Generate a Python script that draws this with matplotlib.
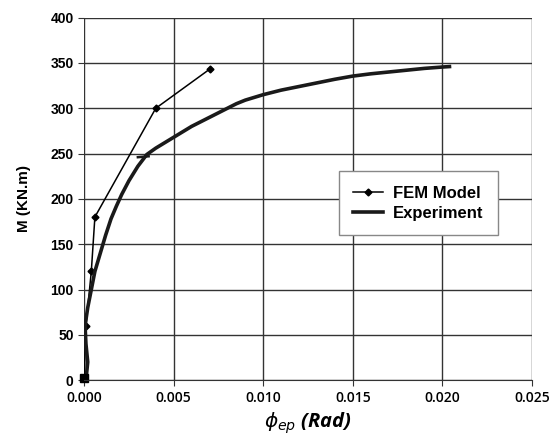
import matplotlib.pyplot as plt

# FEM model points
fem_phi = [0.0, 0.0001, 0.0004, 0.0006, 0.0040, 0.0070]
fem_m = [0, 60, 120, 180, 300, 343]

exp_phi = [0.0001, 0.0002, 0.0001, 0.00005, 0.0002, 0.0004, 0.0006, 0.0009,
           0.0012, 0.0015, 0.0018, 0.0021, 0.0025, 0.0030, 0.0035, 0.0040,
           0.0045, 0.0050, 0.0055, 0.0060, 0.0065, 0.0070, 0.0075, 0.0080,
           0.0085, 0.0090, 0.0095, 0.0100, 0.0110, 0.0120, 0.0130, 0.0140,
           0.0150, 0.0160, 0.0170, 0.0180, 0.0190, 0.0200, 0.0204]
exp_m = [0, 20, 40, 60, 80, 100, 120, 140, 160, 178, 192, 205, 220, 236,
         249, 256, 262, 268, 274, 280, 285, 290, 295, 300, 305, 309, 312,
         315, 320, 324, 328, 332, 335.5, 338, 340, 342, 344, 345.5, 346]

fig = plt.figure(figsize=(5.5, 4.41), dpi=100)
ax = fig.add_axes([0.153, 0.138, 0.814, 0.822])

ax.plot(fem_phi, fem_m, color="black", lw=1.1, marker="D", ms=3.5,
        label="FEM Model")
ax.plot(exp_phi, exp_m, color="#1a1a1a", lw=2.6, label="Experiment")
# spur at the start of the upper part of the test curve
ax.plot([0.0030, 0.0036], [246, 247], color="#1a1a1a", lw=1.8)
ax.plot([0.0], [2], marker="s", ms=6, color="black", ls="none", clip_on=False)

ax.set_xlim(0, 0.025)
ax.set_ylim(0, 400)
ax.set_xticks([0.000, 0.005, 0.010, 0.015, 0.020, 0.025])
ax.set_xticklabels(["0.000", "0.005", "0.010", "0.015", "0.020", "0.025"])
ax.set_yticks(range(0, 401, 50))
ax.grid(True, color="#333333", lw=1.0)
for s in ["top", "right", "left"]:
    ax.spines[s].set_visible(False)
ax.spines["bottom"].set_color("#333333")
ax.tick_params(axis="both", length=4, color="#333333")
for t in ax.get_yticklabels():
    t.set_fontfamily("Liberation Sans")
    t.set_fontweight("bold")
    t.set_fontsize(10)
for t in ax.get_xticklabels():
    t.set_fontfamily("Open Sans")
    t.set_fontweight("semibold")
    t.set_fontsize(10)

ax.set_ylabel("M (KN.m)", fontsize=11, fontweight="bold",
              fontfamily="Liberation Sans", labelpad=14)
ax.set_xlabel(r"$\phi_{ep}$ (Rad)", fontsize=14.5, fontweight="bold",
              fontstyle="italic", fontfamily="Open Sans", labelpad=4)

leg = ax.legend(loc="upper left", bbox_to_anchor=(0.569, 0.576), borderaxespad=0,
                fancybox=False, framealpha=1, edgecolor="#888888",
                handlelength=1.8, labelspacing=0.3, borderpad=0.85,
                handletextpad=0.6,
                prop={"family": "Liberation Sans", "weight": "bold", "size": 12})
leg.get_frame().set_linewidth(1.0)

fig.savefig("out.png", dpi=100)
